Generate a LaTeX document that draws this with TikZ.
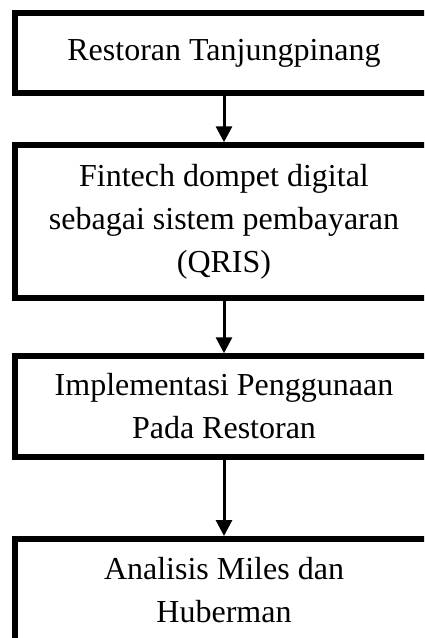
\documentclass[tikz,border=0pt]{standalone}
\usepackage{fontspec}
\setmainfont{Liberation Serif}
\usetikzlibrary{arrows.meta,positioning}

\tikzset{
    flowtext/.style={align=center, inner sep=0pt, font=\fontsize{32}{43}\selectfont},
    flowbox/.style={flowtext, draw, line width=5.5pt, minimum width=418pt},
    flowarrow/.style={line width=3pt, -{Triangle[width=16pt,length=16pt]}}
}

\begin{document}
\begin{tikzpicture}[x=1pt,y=1pt]
    % Page frame (the boxes run past its right and bottom edge)
    \useasboundingbox (0,0) rectangle (424,-638);
    \fill [white] (0,0) rectangle (424,-638);
    \clip (0,0) rectangle (424,-638);

    % Boxes
    \node [flowbox, minimum height=80pt] (restoran) at (224,-53) {Restoran Tanjungpinang};
    \node [flowbox, minimum height=153pt] (fintech) at (224,-221.5)
        {Fintech dompet digital\\sebagai sistem pembayaran\\(QRIS)};
    \node [flowbox, minimum height=101pt] (implementasi) at (224,-406.5)
        {Implementasi Penggunaan\\Pada Restoran};

    % Last box, cut off by the bottom edge
    \node [flowbox, minimum height=120pt, anchor=north] (analisis) at (224,-536) {};
    \node [flowtext] (analisistext) at (224,-590) {Analisis Miles dan\\Huberman};

    % Arrows
    \draw [flowarrow] (restoran) -- (fintech);
    \draw [flowarrow] (fintech) -- (implementasi);
    \draw [flowarrow] (implementasi) -- (analisis);
\end{tikzpicture}
\end{document}
